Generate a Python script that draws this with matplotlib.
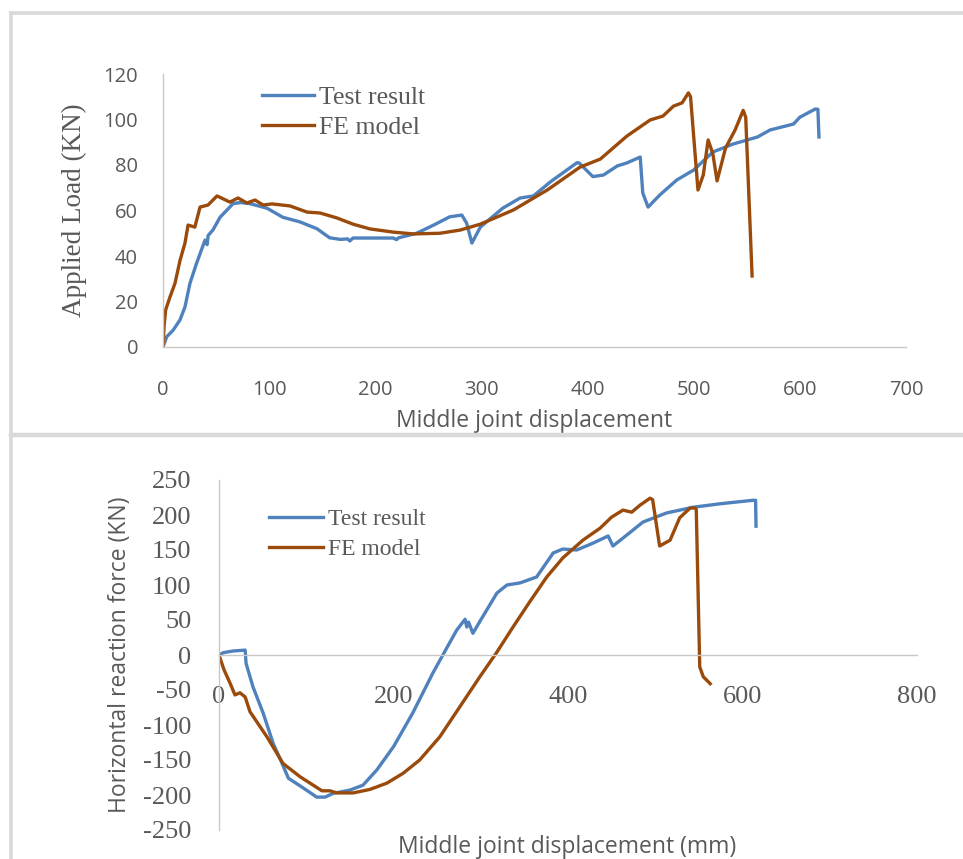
import matplotlib

matplotlib.use("Agg")

import matplotlib.pyplot as plt
from matplotlib.lines import Line2D

plt.rcParams["axes.unicode_minus"] = False

# --- data --------------------------------------------------------------
# top panel: applied load vs middle joint displacement
load_test_x = [0, 3.5, 9.7, 16, 20.7, 25.4, 31.7, 39.6, 41.6, 42.5, 47, 53.7, 66, 73,
               82, 98, 113, 129, 145, 157, 167, 174, 176, 179, 200, 217, 220, 222,
               239, 255, 270, 281.5, 286, 291, 299, 320, 336.5, 349, 365, 390,
               392, 405, 415, 428, 437, 449.6, 452, 457, 468, 484, 500, 518, 537,
               560, 572, 594, 600, 614.5, 617, 618]
load_test_y = [0, 4.5, 7.5, 11.9, 17.6, 28, 36.9, 47, 45, 49, 51.4, 57, 63, 63.5,
               63, 61, 57, 55, 52, 48, 47.3, 47.5, 46.6, 47.9, 47.9, 47.9, 47.2, 48,
               50, 53.6, 57.2, 58, 54.5, 45.7, 52.7, 61, 65.5, 66.4, 72.6, 81,
               80.9, 74.9, 75.6, 79.6, 80.9, 83.5, 67.7, 61.5, 66.8, 73.4, 77.8,
               85.7, 89.2, 92.3, 95.4, 98, 101, 104.6, 104.5, 92.3]
load_fe_x = [0, 1, 2.5, 6.6, 11.3, 16, 20.7, 23.6, 30, 34.9, 42.4, 50.9, 63, 70.7,
             79, 86.7, 94.3, 102.7, 119.7, 135.7, 148, 164, 179, 195, 217, 236,
             261, 280, 299, 330, 362, 393, 412, 437, 459, 471, 481, 489, 495,
             497, 504, 509, 513.6, 518, 522, 530, 539, 546.6, 549, 555]
load_fe_y = [0, 9, 16.3, 22, 28, 38, 45.7, 53.6, 52.7, 61.5, 62.4, 66.4, 63.7,
             65.5, 63.3, 64.6, 62.4, 62.9, 62, 59.3, 58.9, 56.7, 54, 51.9, 50.5,
             49.7, 50, 51.4, 54, 60.2, 69, 79.1, 82.6, 92.7, 99.8, 101.5, 105.9,
             107.3, 111.7, 110, 69, 75.6, 91, 85, 73, 87.5, 95.4, 104, 101, 31.2]

# bottom panel: horizontal reaction force vs middle joint displacement
react_test_x = [0, 5, 16, 30, 31, 39, 50.6, 62, 72, 79.5, 93, 112, 121.5, 131,
                150, 165, 181, 200, 222, 245, 261, 272.5, 282, 284, 286, 291,
                299, 318.6, 330, 345, 364, 383, 394, 410, 429, 446, 451.5, 463,
                486, 513, 543, 574, 593.6, 612, 615, 615.5]
react_test_y = [0, 3.3, 5.7, 7, -11.9, -45.7, -83, -126, -154, -176, -187, -203,
                -203, -197.6, -193, -186, -164, -131, -83, -26, 10, 35.7, 51,
                40, 47, 31, 48, 88.6, 100, 103, 111.4, 145.7, 151.4, 150, 160,
                170, 155.7, 167, 190, 202.9, 211, 216, 218.6, 221, 221, 184]
react_fe_x = [0, 5.7, 12.6, 18.3, 24, 30, 35.5, 55, 73.4, 93, 108, 118, 127, 135,
              154, 173, 192.5, 211, 230, 253, 276, 299, 318.6, 337, 356, 375.6,
              394, 417, 436.6, 450, 463, 473, 482.5, 494, 497, 505, 517, 528,
              540, 545.5, 547, 551, 555, 563]
react_fe_y = [0, -21, -40, -57, -54, -60, -81, -117, -155, -174, -186, -194, -194,
              -197, -197, -192, -183, -169, -150, -117, -74, -31, 4.3, 40, 75.7,
              111.4, 138.6, 164, 181, 197, 207, 204, 214, 224, 222, 155.7, 164,
              196, 210, 210, 208, -17, -31, -41]

BLUE = "#4f81bd"
BROWN = "#9a4a0b"
AXIS = "#c8c8c8"
TXT = "#595959"
SANS = "Open Sans"
SERIF = "Liberation Serif"

fig = plt.figure(figsize=(9.63, 8.59), dpi=100)

# panel frames (light grey boxes around each chart)
frame = dict(color="#d9d9d9", lw=2.6, transform=fig.transFigure)
W, H = 963, 859
fig.add_artist(Line2D([11 / W, 11 / W], [0, 1 - 13 / H], **frame))
fig.add_artist(Line2D([11 / W, 1], [1 - 13 / H, 1 - 13 / H], **frame))
fig.add_artist(Line2D([11 / W, 1], [1 - 435 / H, 1 - 435 / H],
                      color="#d9d9d9", lw=3.2, transform=fig.transFigure))

# ---- top: applied load ----
ax1 = fig.add_axes([163 / W, 1 - 347 / H, 743 / W, 273 / H])
ax1.plot(load_test_x, load_test_y, color=BLUE, lw=2.4, label="Test result",
         solid_joinstyle="round")
ax1.plot(load_fe_x, load_fe_y, color=BROWN, lw=2.4, label="FE model",
         solid_joinstyle="round")
ax1.set_xlim(0, 700)
ax1.set_ylim(0, 120)
ax1.set_xticks(range(0, 701, 100))
ax1.set_yticks(range(0, 121, 20))
for s in ("top", "right"):
    ax1.spines[s].set_visible(False)
for s in ("left", "bottom"):
    ax1.spines[s].set_color(AXIS)
    ax1.spines[s].set_linewidth(1.0)
ax1.tick_params(length=0, labelsize=14.5, labelcolor=TXT)
ax1.tick_params(axis="x", pad=24)
ax1.tick_params(axis="y", pad=18)
for lab in ax1.get_xticklabels() + ax1.get_yticklabels():
    lab.set_family(SANS)
ax1.set_xlabel("Middle joint displacement", family=SANS, fontsize=16.5,
               color=TXT, labelpad=6)
ax1.set_ylabel("Applied Load (KN)", family=SERIF, fontsize=19.5,
               color=TXT, labelpad=12)
ax1.legend(loc="upper left", bbox_to_anchor=(0.12, 0.995), frameon=False,
           prop=dict(family=SERIF, size=18.5), labelcolor=TXT,
           handlelength=2.0, handletextpad=0.2, labelspacing=0.28,
           borderaxespad=0)

# ---- bottom: horizontal reaction force ----
ax2 = fig.add_axes([219 / W, 1 - 830 / H, 698 / W, 350 / H])
ax2.plot(react_test_x, react_test_y, color=BLUE, lw=2.4, label="Test result",
         solid_joinstyle="round")
ax2.plot(react_fe_x, react_fe_y, color=BROWN, lw=2.4, label="FE model",
         solid_joinstyle="round")
ax2.set_xlim(0, 800)
ax2.set_ylim(-250, 250)
ax2.set_xticks(range(0, 801, 200))
ax2.set_yticks(range(-250, 251, 50))
for s in ("top", "right"):
    ax2.spines[s].set_visible(False)
ax2.spines["bottom"].set_position(("data", 0))
for s in ("left", "bottom"):
    ax2.spines[s].set_color(AXIS)
    ax2.spines[s].set_linewidth(1.0)
ax2.tick_params(length=0, labelsize=19, labelcolor=TXT)
ax2.tick_params(axis="x", pad=22)
ax2.tick_params(axis="y", pad=20)
for lab in ax2.get_xticklabels() + ax2.get_yticklabels():
    lab.set_family(SERIF)
ax2.set_ylabel("Horizontal reaction force (KN)", family=SANS, fontsize=16.5,
               color=TXT, labelpad=8)
fig.text(567 / W, 1 - 847 / H, "Middle joint displacement (mm)", family=SANS,
         fontsize=16.5, color=TXT, ha="center", va="center")
ax2.legend(loc="upper left", bbox_to_anchor=(0.058, 0.945), frameon=False,
           prop=dict(family=SERIF, size=17), labelcolor=TXT,
           handlelength=2.3, handletextpad=0.2, labelspacing=0.35,
           borderaxespad=0)

fig.savefig("out.png", dpi=100)
